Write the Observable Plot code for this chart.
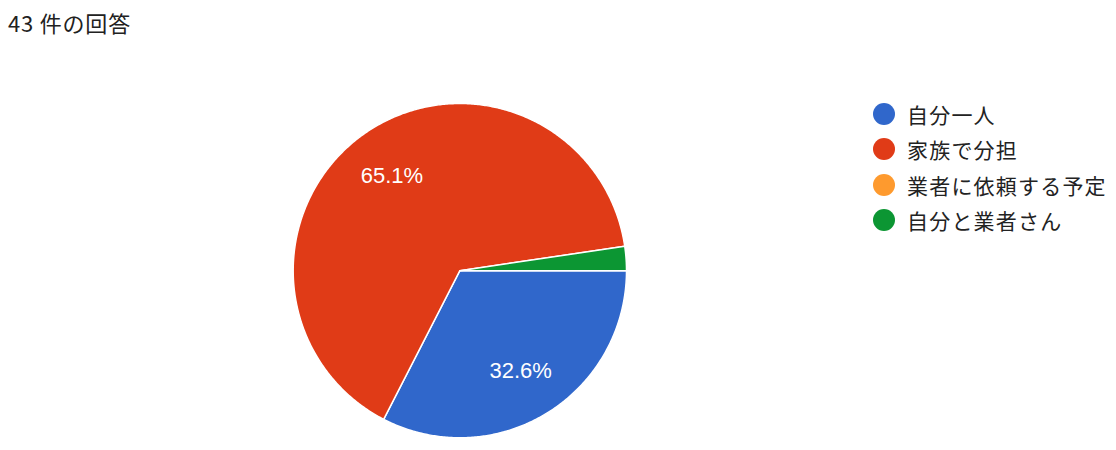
<!DOCTYPE html>
<html><head><meta charset="utf-8">
<script src="https://cdn.jsdelivr.net/npm/d3@7"></script>
<script src="https://cdn.jsdelivr.net/npm/@observablehq/plot@0.6"></script>
<style>
body{margin:0;background:#fff;width:1116px;height:450px;position:relative;overflow:hidden;font-family:"Noto Sans CJK JP","Noto Sans",sans-serif;}
#title{position:absolute;left:8px;top:7px;font-size:22px;letter-spacing:0.8px;line-height:30px;color:#212121;}
#chart{position:absolute;left:0;top:50px;}
#legend{position:absolute;left:873px;top:96px;}
.item{display:flex;align-items:center;height:35.5px;font-size:21px;letter-spacing:1.2px;color:#222;white-space:nowrap;}
.sw{width:22px;height:22px;border-radius:50%;margin-right:12px;flex:none;}
</style></head><body>
<div id="title"></div>
<div id="chart"></div>
<div id="legend"></div>
<script>
const titleText = "43 件の回答";
const categories = ["自分一人", "家族で分担", "業者に依頼する予定", "自分と業者さん"];
const counts = [14, 28, 0, 1];
const colors = ["#3067cb", "#e03b17", "#fe9a2e", "#0c9633"];

document.getElementById("title").textContent = titleText;

const total = d3.sum(counts);
// slices clockwise from 3 o'clock
let acc = 0;
const slices = categories.map((c, i) => {
  const a0 = acc / total * 2 * Math.PI;
  acc += counts[i];
  const a1 = acc / total * 2 * Math.PI;
  return {cat: c, value: counts[i], a0, a1};
});

const pts = [];
for (const s of slices) {
  if (s.value <= 0) continue;
  pts.push({cat: s.cat, x: 0, y: 0});
  const n = Math.max(2, Math.ceil((s.a1 - s.a0) / (Math.PI / 360)));
  for (let k = 0; k <= n; k++) {
    const a = s.a0 + (s.a1 - s.a0) * k / n;
    pts.push({cat: s.cat, x: Math.cos(a), y: Math.sin(a)});
  }
}

const labels = slices.filter(s => s.value / total >= 0.05).map(s => {
  const m = (s.a0 + s.a1) / 2;
  return {x: 0.7 * Math.cos(m), y: 0.7 * Math.sin(m), text: (s.value / total * 100).toFixed(1) + "%"};
});

const chart = Plot.plot({
  width: 1116,
  height: 400,
  margin: 0,
  x: {domain: [-1, 1], range: [292.7, 626], axis: null},
  y: {domain: [-1, 1], range: [53, 387.3], axis: null},
  color: {domain: categories, range: colors},
  style: {background: "transparent"},
  marks: [
    Plot.line(pts, {x: "x", y: "y", z: "cat", fill: "cat", stroke: "white", strokeWidth: 1.5, strokeLinejoin: "round", curve: "linear-closed"}),
    Plot.text(labels, {x: "x", y: "y", text: "text", fill: "white", fontSize: 22, fontFamily: "Liberation Sans, Arial, sans-serif"})
  ]
});
document.getElementById("chart").appendChild(chart);

const legend = document.getElementById("legend");
categories.forEach((c, i) => {
  const row = document.createElement("div");
  row.className = "item";
  const sw = document.createElement("span");
  sw.className = "sw";
  sw.style.background = colors[i];
  const t = document.createElement("span");
  t.textContent = c;
  row.appendChild(sw);
  row.appendChild(t);
  legend.appendChild(row);
});
</script>
</body></html>
